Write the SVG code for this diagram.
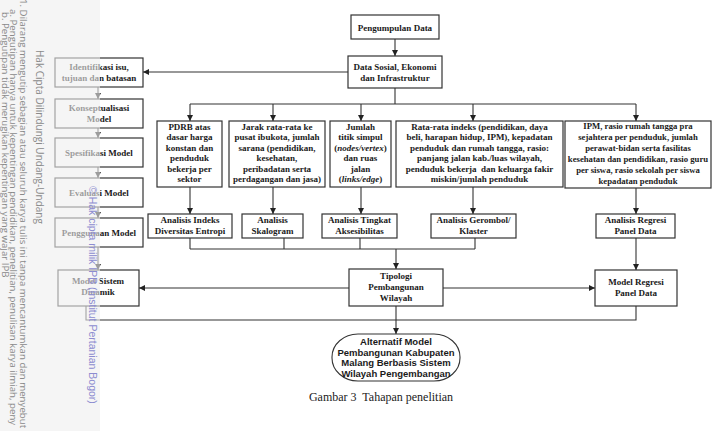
<svg xmlns="http://www.w3.org/2000/svg" width="716" height="431" viewBox="0 0 716 431">
<style>
.box{fill:#fff;stroke:#333;stroke-width:1.2}
.t{font-family:"Liberation Serif","Times New Roman",serif;font-weight:bold;font-size:9px;fill:#1a1a1a;text-anchor:middle}
.s{font-size:8.7px}
.ln{fill:none;stroke:#333;stroke-width:1.1}
.ar{fill:none;stroke:#333;stroke-width:1.1;marker-end:url(#ah)}
.wm{font-family:"Open Sans","Liberation Sans",sans-serif;fill:#8a8a8a}
</style>
<defs>
<marker id="ah" markerUnits="userSpaceOnUse" markerWidth="7" markerHeight="7" refX="6" refY="3" orient="auto">
<path d="M0,0 L6,3 L0,6 z" fill="#222"/>
</marker>
</defs>
<rect width="716" height="431" fill="#fff"/>

<g id="connectors">
<path class="ar" d="M395,39 V56"/>
<path class="ar" d="M348,72 H143"/>
<path class="ln" d="M395,88 V104 M190,104 H636"/>
<path class="ar" d="M190,104 V121"/>
<path class="ar" d="M273,104 V121"/>
<path class="ar" d="M361,104 V121"/>
<path class="ar" d="M473,104 V121"/>
<path class="ar" d="M636,104 V121"/>
<path class="ar" d="M190,187 V214"/>
<path class="ar" d="M273,187 V214"/>
<path class="ar" d="M361,187 V214"/>
<path class="ar" d="M473,187 V214"/>
<path class="ar" d="M636,188 V214"/>
<path class="ln" d="M190,238 V249 M284,238 V249 M360,238 V249 M475,238 V249 M190,249 H475"/>
<path class="ar" d="M396,249 V269"/>
<path class="ar" d="M349,288 H139"/>
<path class="ar" d="M443,288 H595"/>
<path class="ar" d="M636,238 V270"/>
<path class="ln" d="M636,306 V320 H86 V306"/>
<path class="ar" d="M396,306 V334"/>
<path class="ar" d="M98,87 V99"/>
<path class="ar" d="M98,128 V138"/>
<path class="ar" d="M98,167 V178"/>
<path class="ar" d="M98,207 V218"/>
<path class="ar" d="M98,247 V270"/>
</g>

<g id="pengumpulan"><rect class="box" x="351" y="15" width="88" height="24"/><text class="t" x="395" y="30.5">Pengumpulan Data</text></g>
<g id="datasosial"><rect class="box" x="348" y="56" width="94" height="32"/><text class="t" x="395" y="70">Data Sosial, Ekonomi</text><text class="t" x="395" y="81">dan Infrastruktur</text></g>

<g id="identifikasi"><rect class="box" x="55" y="58" width="88" height="29"/><text class="t" x="99" y="70">Identifikasi isu,</text><text class="t" x="99" y="81">tujuan dan batasan</text></g>
<g id="konseptualisasi"><rect class="box" x="55" y="99" width="88" height="29"/><text class="t" x="99" y="111">Konseptualisasi</text><text class="t" x="99" y="122">Model</text></g>
<g id="spesifikasi"><rect class="box" x="55" y="138" width="88" height="29"/><text class="t" x="99" y="155.5">Spesifikasi Model</text></g>
<g id="evaluasi"><rect class="box" x="55" y="178" width="88" height="29"/><text class="t" x="99" y="195.5">Evaluasi Model</text></g>
<g id="penggunaan"><rect class="box" x="55" y="218" width="88" height="29"/><text class="t" x="99" y="235.5">Penggunaan Model</text></g>
<g id="sistemdinamik"><rect class="box" x="58" y="270" width="81" height="36"/><text class="t" x="98" y="284">Model Sistem</text><text class="t" x="98" y="295">Dinamik</text></g>

<g id="pdrb"><rect class="box" x="157" y="121" width="65" height="66"/>
<text class="t" x="189.5" y="129.5">PDRB atas</text><text class="t" x="189.5" y="140">dasar harga</text><text class="t" x="189.5" y="150.5">konstan dan</text><text class="t" x="189.5" y="161">penduduk</text><text class="t" x="189.5" y="171.5">bekerja per</text><text class="t" x="189.5" y="182">sektor</text></g>
<g id="jarak"><rect class="box" x="229" y="121" width="96" height="66"/>
<text class="t" x="277" y="129.5">Jarak rata-rata ke</text><text class="t" x="277" y="140">pusat ibukota, jumlah</text><text class="t" x="277" y="150.5">sarana (pendidikan,</text><text class="t" x="277" y="161">kesehatan,</text><text class="t" x="277" y="171.5">peribadatan serta</text><text class="t" x="277" y="182">perdagangan dan jasa)</text></g>
<g id="jumlah"><rect class="box" x="330" y="121" width="61" height="66"/>
<text class="t" x="360.5" y="129.5">Jumlah</text><text class="t" x="360.5" y="140">titik simpul</text><text class="t" x="360.5" y="150.5">(<tspan font-style="italic">nodes/vertex</tspan>)</text><text class="t" x="360.5" y="161">dan ruas</text><text class="t" x="360.5" y="171.5">jalan</text><text class="t" x="360.5" y="182">(<tspan font-style="italic">links/edge</tspan>)</text></g>
<g id="ratarata"><rect class="box" x="396" y="121" width="167" height="66"/>
<text class="t" x="479.5" y="129.5">Rata-rata indeks (pendidikan, daya</text><text class="t" x="479.5" y="140">beli, harapan hidup, IPM), kepadatan</text><text class="t" x="479.5" y="150.5">penduduk dan rumah tangga, rasio:</text><text class="t" x="479.5" y="161">panjang jalan kab./luas wilayah,</text><text class="t" x="479.5" y="171.5">penduduk bekerja&#160; dan keluarga fakir</text><text class="t" x="479.5" y="182">miskin/jumlah penduduk</text></g>
<g id="ipm"><rect class="box" x="565" y="121" width="146" height="67"/>
<text class="t s" x="638" y="129">IPM, rasio rumah tangga pra</text><text class="t s" x="638" y="140">sejahtera per penduduk, jumlah</text><text class="t s" x="638" y="151">perawat-bidan serta fasilitas</text><text class="t s" x="638" y="162">kesehatan dan pendidikan, rasio guru</text><text class="t s" x="638" y="173">per siswa, rasio sekolah per siswa</text><text class="t s" x="638" y="184">kepadatan penduduk</text></g>

<g id="entropi"><rect class="box" x="148" y="214" width="84" height="24"/><text class="t" x="190" y="223">Analisis Indeks</text><text class="t" x="190" y="234">Diversitas Entropi</text></g>
<g id="skalogram"><rect class="box" x="242" y="214" width="61" height="24"/><text class="t" x="272.5" y="223">Analisis</text><text class="t" x="272.5" y="234">Skalogram</text></g>
<g id="aksesibilitas"><rect class="box" x="322" y="214" width="75" height="24"/><text class="t" x="359.5" y="223">Analisis Tingkat</text><text class="t" x="359.5" y="234">Aksesibilitas</text></g>
<g id="gerombol"><rect class="box" x="431" y="214" width="85" height="24"/><text class="t" x="473.5" y="223">Analisis Gerombol/</text><text class="t" x="473.5" y="234">Klaster</text></g>
<g id="regresi"><rect class="box" x="596" y="214" width="79" height="24"/><text class="t" x="635.5" y="223">Analisis Regresi</text><text class="t" x="635.5" y="234">Panel Data</text></g>

<g id="tipologi"><rect class="box" x="349" y="269" width="94" height="37"/><text class="t" x="396" y="279">Tipologi</text><text class="t" x="396" y="290">Pembangunan</text><text class="t" x="396" y="301">Wilayah</text></g>
<g id="modelregresi"><rect class="box" x="595" y="270" width="82" height="36"/><text class="t" x="636" y="285">Model Regresi</text><text class="t" x="636" y="296">Panel Data</text></g>

<g id="alternatif"><rect x="332" y="334" width="128" height="47" rx="26" ry="23" fill="#fff" stroke="#333" stroke-width="1.1"/>
<g font-family="'Liberation Sans',Arial,sans-serif" font-weight="bold" font-size="9.5" fill="#1a1a1a" text-anchor="middle">
<text x="396" y="344.5">Alternatif Model</text><text x="396" y="355.5">Pembangunan Kabupaten</text><text x="396" y="366">Malang Berbasis Sistem</text><text x="396" y="376.5">Wilayah Pengembangan</text></g></g>

<text x="381" y="401" font-family="'Liberation Serif','Times New Roman',serif" font-size="12" fill="#222" text-anchor="middle">Gambar 3&#160; Tahapan penelitian</text>

<rect x="0" y="0" width="100" height="431" fill="#eeeeee" fill-opacity="0.6"/>
<text class="wm" font-size="10" transform="translate(35.5,50) rotate(90)">Hak Cipta Dilindungi Undang-Undang</text>
<text class="wm" font-size="9.7" transform="translate(20,-1) rotate(90)">1. Dilarang mengutip sebagian atau seluruh karya tulis ini tanpa mencantumkan dan menyebut</text>
<text class="wm" font-size="9.7" transform="translate(10,9) rotate(90)">a. Pengutipan hanya untuk kepentingan pendidikan, penelitian, penulisan karya ilmiah, peny</text>
<text class="wm" font-size="9.7" transform="translate(1.5,12) rotate(90)">b. Pengutipan tidak merugikan kepentingan yang wajar IPB</text>
<text font-family="'Liberation Sans',Arial,sans-serif" font-size="10.5" fill="#8c8cd0" transform="translate(89,186) rotate(90)">© Hak cipta milik IPB (Institut Pertanian Bogor)</text>
</svg>
